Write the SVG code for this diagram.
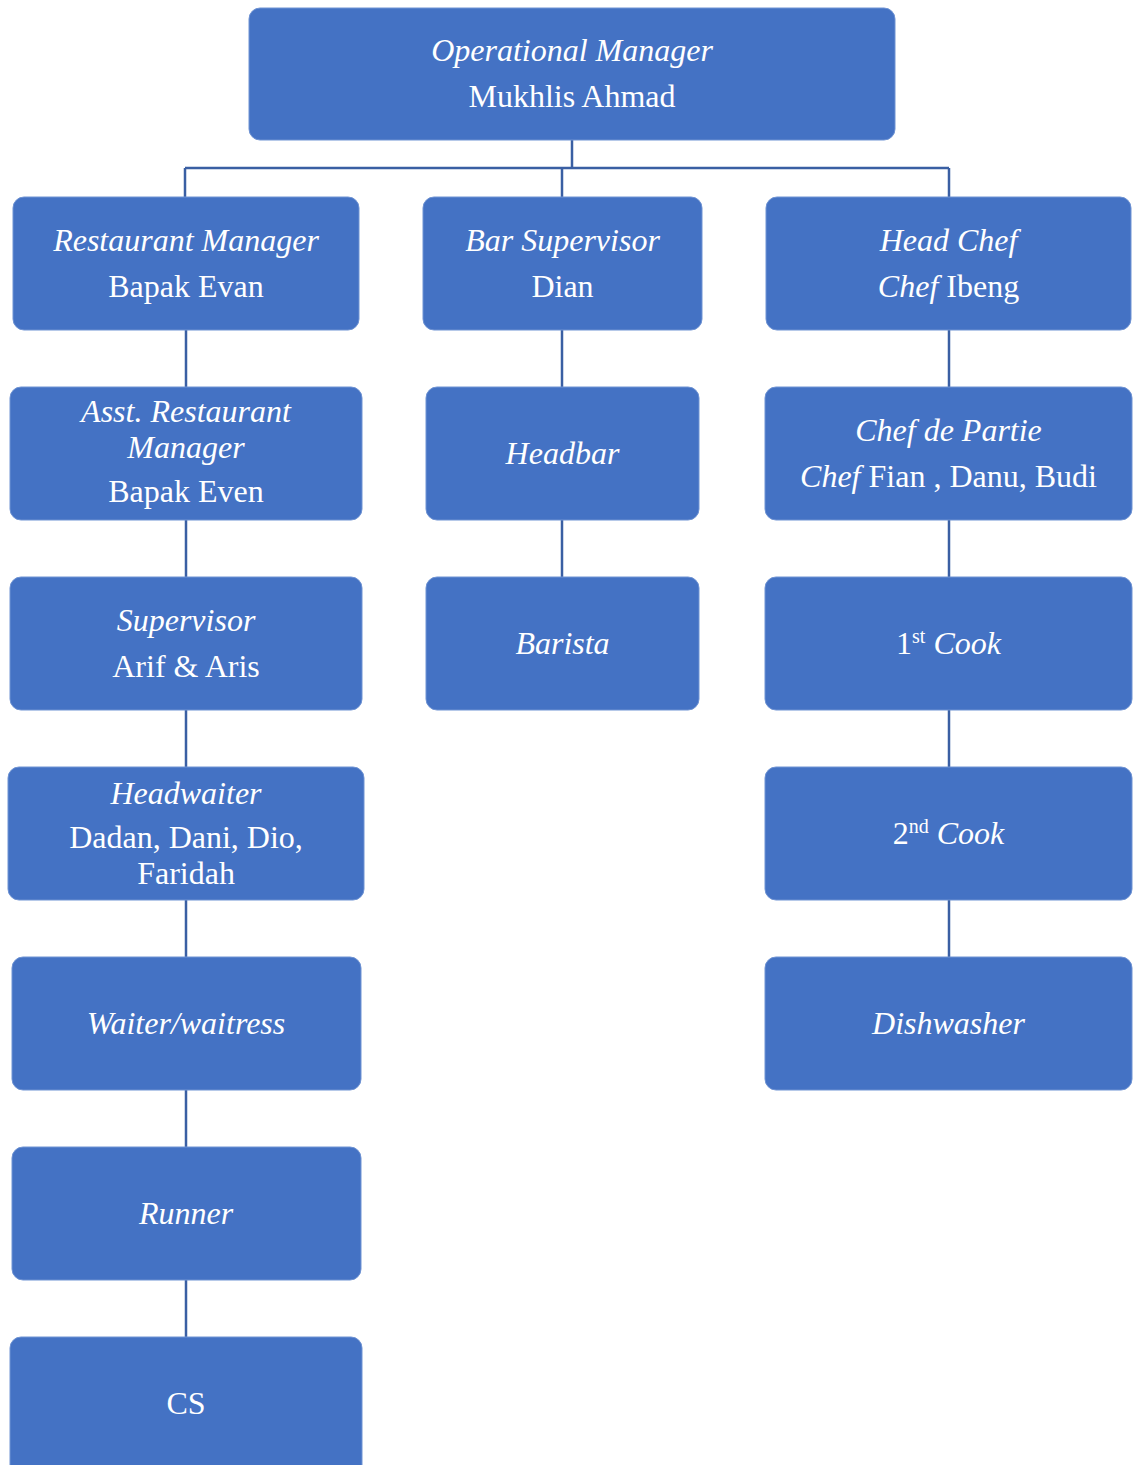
<svg xmlns="http://www.w3.org/2000/svg" width="1133" height="1465" viewBox="0 0 1133 1465">
<style>
.box{fill:#4472C4;stroke:#6f93d3;stroke-width:1}
.t{font-family:"Liberation Serif","Times New Roman",serif;font-size:32px;fill:#ffffff;text-anchor:middle}
.i{font-style:italic}
.c{fill:none;stroke:#3A5FA3;stroke-width:2.5}
</style>
<rect width="1133" height="1465" fill="#ffffff"/>
<g id="connectors">
<path class="c" d="M572,140 V168 M185,168 H949 M185,168 V197 M562,168 V197 M949,168 V197"/>
<path class="c" d="M186,330 V387 M186,520 V577 M186,710 V767 M186,900 V957 M186,1090 V1147 M186,1280 V1337"/>
<path class="c" d="M562,330 V387 M562,520 V577"/>
<path class="c" d="M949,330 V387 M949,520 V577 M949,710 V767 M949,900 V957"/>
</g>
<g id="n-opmanager"><rect class="box" x="249" y="8" width="646" height="132" rx="11"/>
<text class="t i" x="572" y="61">Operational Manager</text><text class="t" x="572" y="107">Mukhlis Ahmad</text></g>
<g id="n-restmanager"><rect class="box" x="13" y="197" width="346" height="133" rx="11"/>
<text class="t i" x="186" y="251">Restaurant Manager</text><text class="t" x="186" y="297">Bapak Evan</text></g>
<g id="n-barsup"><rect class="box" x="423" y="197" width="279" height="133" rx="11"/>
<text class="t i" x="562.5" y="251">Bar Supervisor</text><text class="t" x="562.5" y="297">Dian</text></g>
<g id="n-headchef"><rect class="box" x="766" y="197" width="365" height="133" rx="11"/>
<text class="t i" x="948.5" y="251">Head Chef</text><text class="t" x="948.5" y="297"><tspan class="i">Chef</tspan> Ibeng</text></g>
<g id="n-asstrm"><rect class="box" x="10" y="387" width="352" height="133" rx="11"/>
<text class="t i" x="186" y="422">Asst. Restaurant</text><text class="t i" x="186" y="458">Manager</text><text class="t" x="186" y="502">Bapak Even</text></g>
<g id="n-headbar"><rect class="box" x="426" y="387" width="273" height="133" rx="11"/>
<text class="t i" x="562.5" y="464">Headbar</text></g>
<g id="n-cdp"><rect class="box" x="765" y="387" width="367" height="133" rx="11"/>
<text class="t i" x="948.5" y="441">Chef de Partie</text><text class="t" x="948.5" y="487"><tspan class="i">Chef</tspan> Fian , Danu, Budi</text></g>
<g id="n-supervisor"><rect class="box" x="10" y="577" width="352" height="133" rx="11"/>
<text class="t i" x="186" y="631">Supervisor</text><text class="t" x="186" y="677">Arif &amp; Aris</text></g>
<g id="n-barista"><rect class="box" x="426" y="577" width="273" height="133" rx="11"/>
<text class="t i" x="562.5" y="654">Barista</text></g>
<g id="n-cook1"><rect class="box" x="765" y="577" width="367" height="133" rx="11"/>
<text class="t" x="948.5" y="654">1<tspan font-size="20" dy="-11">st</tspan><tspan dy="11"> </tspan><tspan class="i">Cook</tspan></text></g>
<g id="n-headwaiter"><rect class="box" x="8" y="767" width="356" height="133" rx="11"/>
<text class="t i" x="186" y="804">Headwaiter</text><text class="t" x="186" y="848">Dadan, Dani, Dio,</text><text class="t" x="186" y="884">Faridah</text></g>
<g id="n-cook2"><rect class="box" x="765" y="767" width="367" height="133" rx="11"/>
<text class="t" x="948.5" y="844">2<tspan font-size="20" dy="-11">nd</tspan><tspan dy="11"> </tspan><tspan class="i">Cook</tspan></text></g>
<g id="n-waiter"><rect class="box" x="12" y="957" width="349" height="133" rx="11"/>
<text class="t i" x="186" y="1034">Waiter/waitress</text></g>
<g id="n-dishwasher"><rect class="box" x="765" y="957" width="367" height="133" rx="11"/>
<text class="t i" x="948.5" y="1034">Dishwasher</text></g>
<g id="n-runner"><rect class="box" x="12" y="1147" width="349" height="133" rx="11"/>
<text class="t i" x="186" y="1224">Runner</text></g>
<g id="n-cs"><rect class="box" x="10" y="1337" width="352" height="140" rx="11"/>
<text class="t" x="186" y="1414">CS</text></g>
</svg>
